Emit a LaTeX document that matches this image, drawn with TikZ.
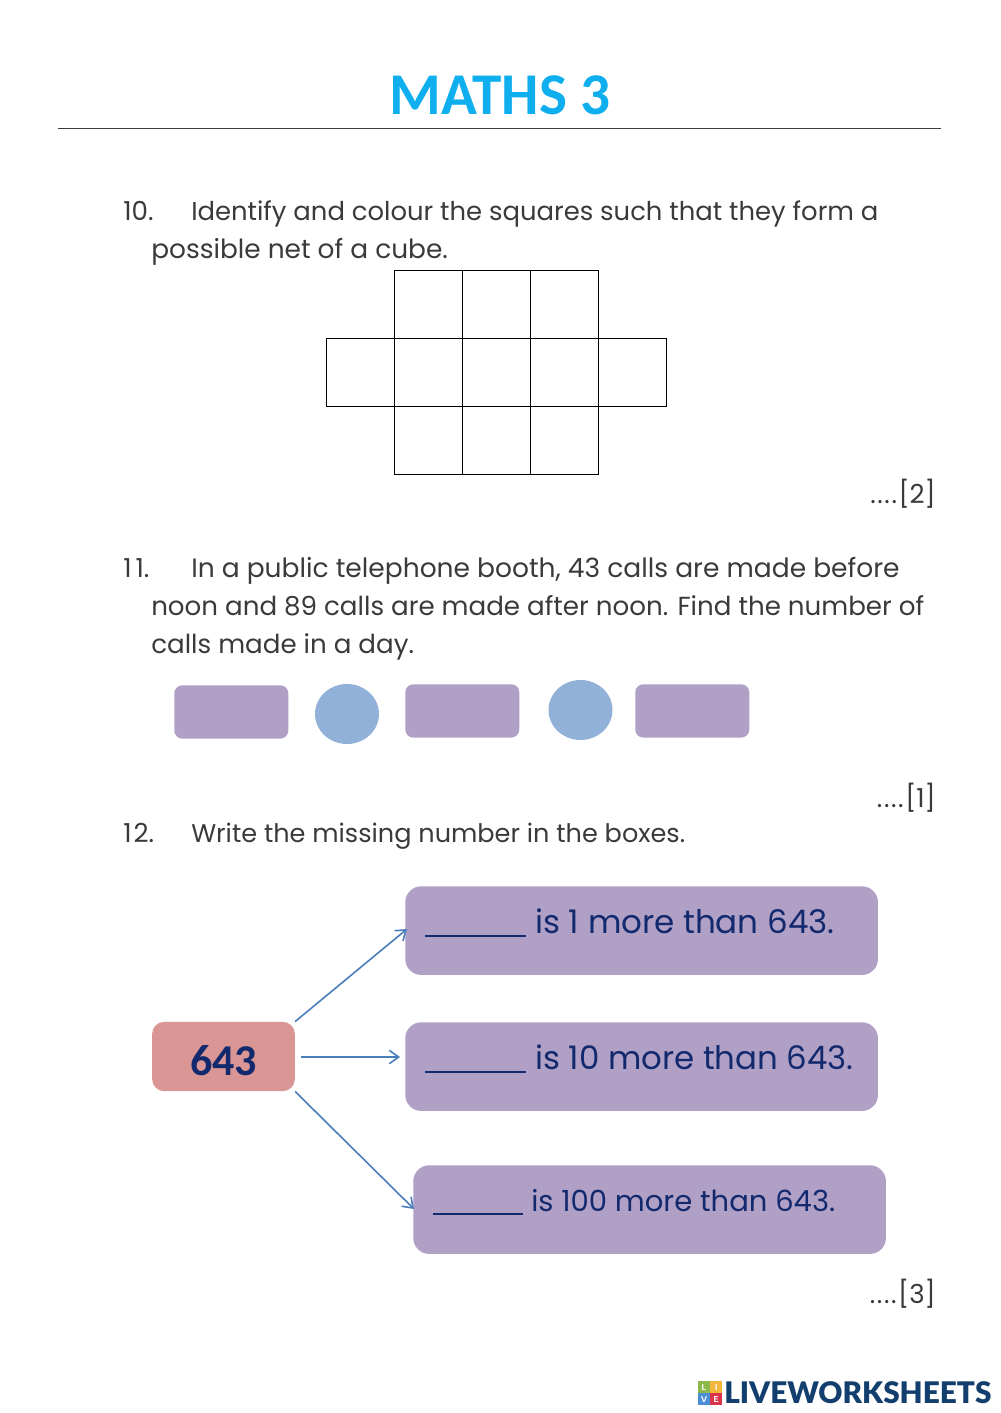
\documentclass[tikz,border=0pt]{standalone}
\usepackage{fontspec}
\setmainfont{Poppins}
\newfontfamily\carlito{Carlito}
\newfontfamily\lato{Lato Black}
\usepackage{tikz}
\usetikzlibrary{positioning, arrows.meta, shapes.geometric}
\definecolor{title1}{HTML}{0FAEEF}
\definecolor{ink1}{HTML}{3A3A3A}
\definecolor{navy1}{HTML}{12296E}
\definecolor{purple1}{HTML}{B0A0C6}
\definecolor{blue1}{HTML}{92B1D8}
\definecolor{rose1}{HTML}{D99694}
\definecolor{arrow1}{HTML}{4A7EBB}
\definecolor{logo1}{HTML}{123F6D}
\definecolor{tileL1}{HTML}{8DB84A}
\definecolor{tileI1}{HTML}{F2B63C}
\definecolor{tileV1}{HTML}{4A8FD6}
\definecolor{tileE1}{HTML}{D8344A}
\newcommand{\blankline}[2]{\rule[-3pt]{#1pt}{1.3pt}\hspace{#2pt}}
\newcommand{\markdots}{.\kern1.2pt.\kern1.2pt.\kern1.2pt.\kern1.2pt}
\tikzset{
  line1/.style={anchor=base west, inner sep=0pt, text=ink1, font=\fontsize{19.6}{24}\selectfont},
  mark1/.style={anchor=base east, inner sep=0pt, text=ink1, font=\fontsize{19.6}{24}\selectfont},
  slot1/.style={fill=purple1, rounded corners=6, anchor=north west, inner sep=0pt},
  disc1/.style={fill=blue1, ellipse, inner sep=0pt},
  answer1/.style={fill=purple1, rounded corners=12, anchor=north west, inner sep=0pt},
  say1/.style={anchor=base west, inner sep=0pt, text=navy1},
  link1/.style={draw=arrow1, line width=1.2pt, -{Straight Barb[length=7pt, width=10pt]}},
  tile1/.style={minimum size=8.8, inner sep=0pt, text=white, font=\fontsize{6.5}{7}\selectfont\bfseries\sffamily},
}
\begin{document}
\begin{tikzpicture}[x=0.75pt, y=-0.75pt]
\useasboundingbox (0,0) rectangle (1000,1413);
\node[inner sep=0pt, anchor=base, text=title1, font=\carlito\bfseries\fontsize{44.4}{50}\selectfont] (title) at (500,114) {MATHS 3};
\coordinate (ruleL) at (58,128);
\coordinate (ruleR) at (941,128);
\draw[line width=0.6pt, color=ink1] (ruleL) -- (ruleR);
% question 10
\node[line1] (q10) at (123,220) {10.};
\node[line1, font=\fontsize{19.4}{24}\selectfont] (q10a) at (191,220) {Identify and colour the squares such that they form a};
\node[line1, font=\fontsize{19.8}{24}\selectfont] (q10b) at (151,258) {possible net of a cube.};
\foreach \i in {0,1,2} {
  \draw[line width=0.7pt] (394.5+68*\i,270) rectangle (462.5+68*\i,338);
  \draw[line width=0.7pt] (394.5+68*\i,406) rectangle (462.5+68*\i,474);
}
\foreach \i in {0,...,4} {
  \draw[line width=0.7pt] (326.5+68*\i,338) rectangle (394.5+68*\i,406);
}
\node[mark1] (m10) at (936,503) {\markdots[2]};
% question 11
\node[line1] (q11) at (123,577) {1\kern3pt1.};
\node[line1, font=\fontsize{19.88}{24}\selectfont] (q11a) at (191,577) {In a public telephone booth, 43 calls are made before};
\node[line1] (q11b) at (151,615) {noon and 89 calls are made after noon. Find the number of};
\node[line1] (q11c) at (151,653) {calls made in a day.};
\node[slot1, minimum width=85.5, minimum height=40] (slotA) at (174,685) {};
\node[slot1, minimum width=85.5, minimum height=40] (slotB) at (405,684) {};
\node[slot1, minimum width=85.5, minimum height=40] (slotC) at (635,684) {};
\node[disc1, minimum width=48, minimum height=45] (discA) at (347,714) {};
\node[disc1, minimum width=48, minimum height=45] (discB) at (580.5,710) {};
\node[mark1] (m11) at (936,807) {\markdots[1]};
% question 12
\node[line1] (q12) at (123,842) {1\kern1.5pt2.};
\node[line1, font=\fontsize{19.17}{24}\selectfont] (q12a) at (191,842) {Write the missing number in the boxes.};
\node[fill=rose1, rounded corners=9, inner sep=0pt, minimum width=107, minimum height=52, text height=29.2pt, text depth=0pt, text=navy1, font=\carlito\bfseries\fontsize{33}{36}\selectfont] (num) at (223.5,1056.5) {643};
\node[answer1, minimum width=354.5, minimum height=66.5] (ansA) at (405,886) {};
\node[answer1, minimum width=354.5, minimum height=66.5] (ansB) at (405,1022) {};
\node[answer1, minimum width=354.5, minimum height=66.5] (ansC) at (413,1165) {};
\node[say1, font=\fontsize{24.4}{30}\selectfont] (sayA) at (425,933) {\blankline{75.75}{6.75}is 1 more than 643.};
\node[say1, font=\fontsize{24.3}{30}\selectfont] (sayB) at (425,1069) {\blankline{75.75}{6.75}is 10 more than 643.};
\node[say1, font=\fontsize{21.8}{27}\selectfont] (sayC) at (433,1211) {\blankline{67.5}{6}is 100 more than 643.};
\coordinate (ansAin) at (407,929);
\coordinate (numOut) at (301,1057);
\coordinate (ansBin) at (400,1057);
\coordinate (ansCin) at (414,1209);
\draw[link1] (num.north east) -- (ansAin);
\draw[link1] (numOut) -- (ansBin);
\draw[link1] (num.south east) -- (ansCin);
\node[mark1] (m12) at (936,1303) {\markdots[3]};
% logo
\node[tile1, fill=tileL1] (tileL) at (704,1387) {L};
\node[tile1, fill=tileI1, right=0pt of tileL] (tileI) {I};
\node[tile1, fill=tileV1, below=0pt of tileL] (tileV) {V};
\node[tile1, fill=tileE1, right=0pt of tileV] (tileE) {E};
\node[inner sep=0pt, anchor=base west, text=logo1, font=\lato\fontsize{22.3}{24}\selectfont] (logo) at (724,1403) {LIVEWORKSHEETS};
\end{tikzpicture}
\end{document}
